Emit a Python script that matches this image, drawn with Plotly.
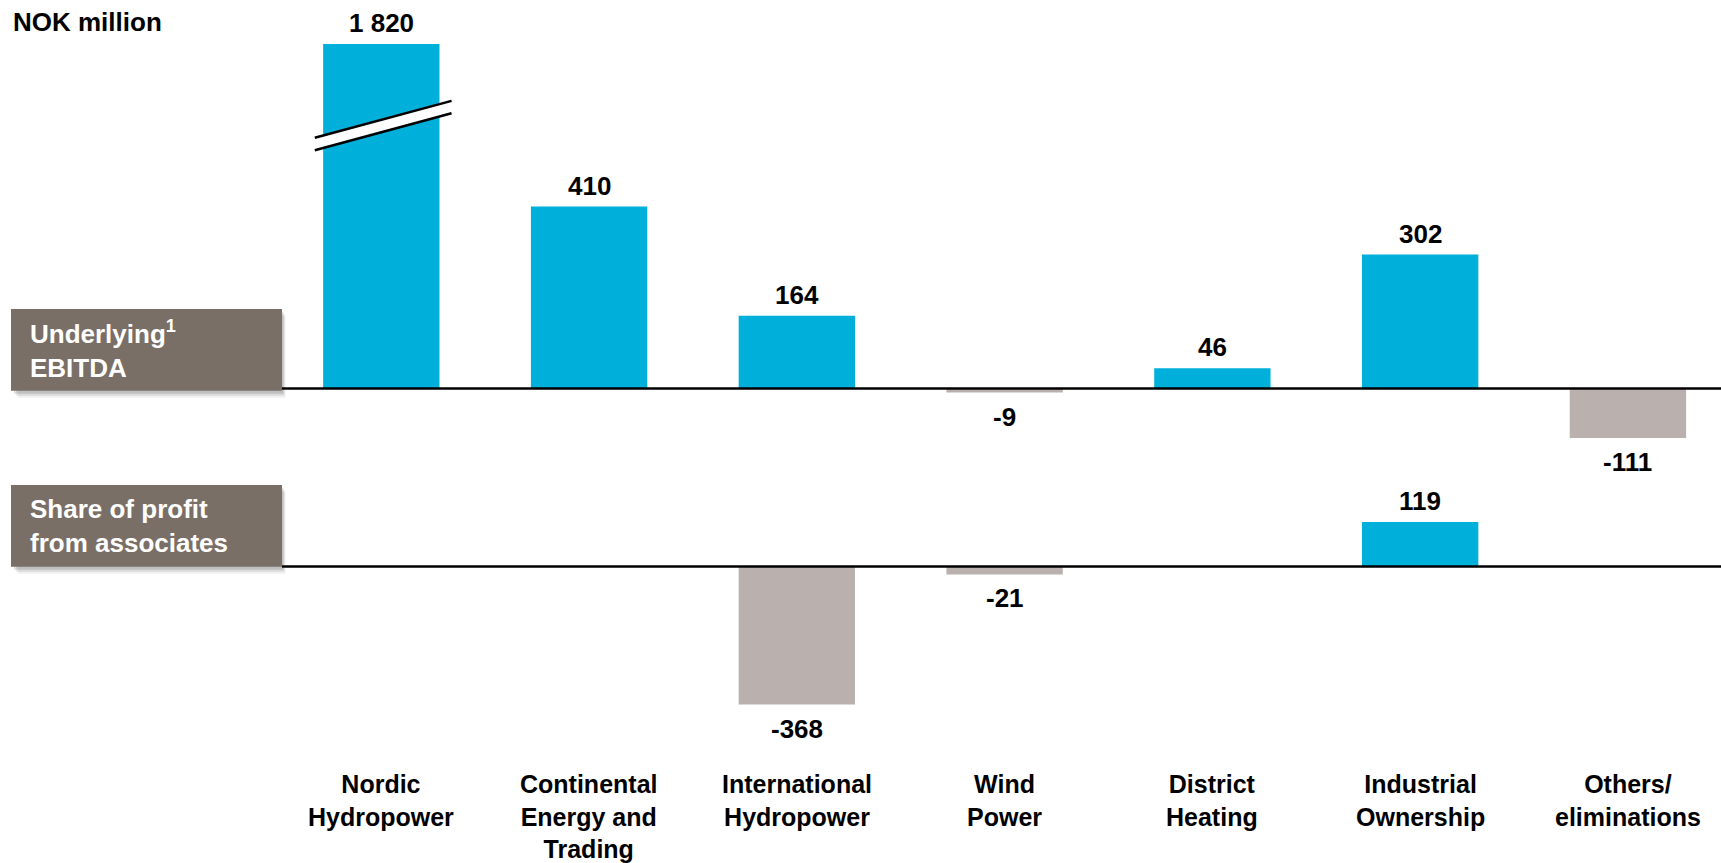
import plotly.graph_objects as go

# ---------------- data ----------------
categories = ["Nordic Hydropower", "Continental Energy and Trading", "International Hydropower",
              "Wind Power", "District Heating", "Industrial Ownership", "Others/eliminations"]
category_labels = ["Nordic<br>Hydropower", "Continental<br>Energy and<br>Trading", "International<br>Hydropower",
                   "Wind<br>Power", "District<br>Heating", "Industrial<br>Ownership", "Others/<br>eliminations"]
ebitda = [1820, 410, 164, -9, 46, 302, -111]
associates = [None, None, -368, -21, None, 119, None]
ebitda_display_cap = 776   # broken-axis cap for very tall bars

# ---------------- styling ----------------
W, H = 1721, 863
BLUE = "#00B0DB"
GREY_BAR = "#BAB1AE"
BOX = "#7A6F67"
FONT = "Liberation Sans, Arial, sans-serif"
FS = 26

def px_x(p):
    return p / W

def px_y(p):
    return 1 - p / H

def fmt(v):
    return f"{v:,}".replace(",", " ")

top_disp = [min(v, ebitda_display_cap) for v in ebitda]
top_colors = [BLUE if v > 0 else GREY_BAR for v in ebitda]
bot_colors = [BLUE if (v is not None and v > 0) else GREY_BAR for v in associates]

fig = go.Figure()
fig.add_trace(go.Bar(x=categories, y=top_disp, marker=dict(color=top_colors, line=dict(width=0)),
                     width=0.56, xaxis="x", yaxis="y", hoverinfo="skip"))
fig.add_trace(go.Bar(x=categories, y=associates, marker=dict(color=bot_colors, line=dict(width=0)),
                     width=0.56, xaxis="x2", yaxis="y2", hoverinfo="skip"))

xrange = [-0.478, 6.448]
xdom = [px_x(282), 1]
annotations = []
shapes = []

# value labels
for c, v, d in zip(categories, ebitda, top_disp):
    annotations.append(dict(x=c, y=d, xref="x", yref="y", text=f"<b>{fmt(v)}</b>", showarrow=False,
                            yshift=21 if v > 0 else -24, yanchor="middle",
                            font=dict(family=FONT, size=FS, color="black")))
for c, v in zip(categories, associates):
    if v is None:
        continue
    annotations.append(dict(x=c, y=v, xref="x2", yref="y2", text=f"<b>{fmt(v)}</b>", showarrow=False,
                            yshift=21 if v > 0 else -24, yanchor="middle",
                            font=dict(family=FONT, size=FS, color="black")))

# category labels
for c, lab in zip(categories, category_labels):
    annotations.append(dict(x=c, y=px_y(768), xref="x2", yref="paper", text=f"<b>{lab}</b>",
                            showarrow=False, yanchor="top", align="center",
                            font=dict(family=FONT, size=25, color="black")))

# unit label
annotations.append(dict(x=px_x(11), y=px_y(22), xref="paper", yref="paper", text="<b>NOK million</b>",
                        showarrow=False, xanchor="left", yanchor="middle",
                        font=dict(family=FONT, size=FS, color="black")))

# left boxes
boxes = [(309, 390.7, "Underlying<sup>1</sup><br>EBITDA"),
         (485, 566.7, "Share of profit<br>from associates")]
for y0, y1, txt in boxes:
    for off, op in [(7, 0.06), (5, 0.09), (3, 0.12)]:
        shapes.append(dict(type="rect", xref="paper", yref="paper",
                           x0=px_x(11 + off), x1=px_x(282 + off * 0.5),
                           y0=px_y(y1 + off), y1=px_y(y0 + off),
                           fillcolor=f"rgba(0,0,0,{op})", line=dict(width=0), layer="below"))
    shapes.append(dict(type="rect", xref="paper", yref="paper", x0=px_x(11), x1=px_x(282),
                       y0=px_y(y1), y1=px_y(y0), fillcolor=BOX, line=dict(width=0), layer="below"))
    annotations.append(dict(x=px_x(28), y=px_y((y0 + y1) / 2), xref="paper", yref="paper",
                            text=f"<b>{txt}</b>", showarrow=False, xanchor="left", yanchor="middle",
                            align="left", font=dict(family=FONT, size=FS, color="white")))

# baselines
for ax in ["y", "y2"]:
    shapes.append(dict(type="line", xref="paper", yref=ax, x0=xdom[0], x1=1, y0=0, y1=0,
                       line=dict(color="black", width=2.5)))

# axis break marks on the capped bar
bi = 0
cap = ebitda_display_cap
xl, xr = bi - 0.32, bi + 0.338
ul, ur = cap - 211, cap - 128
ll, lr = cap - 239, cap - 156
shapes.append(dict(type="path", xref="x", yref="y",
                   path=f"M {xl},{ul} L {xr},{ur} L {xr},{lr} L {xl},{ll} Z",
                   fillcolor="white", line=dict(width=0)))
shapes.append(dict(type="line", xref="x", yref="y", x0=xl, x1=xr, y0=ul, y1=ur,
                   line=dict(color="black", width=2.5)))
shapes.append(dict(type="line", xref="x", yref="y", x0=xl, x1=xr, y0=ll, y1=lr,
                   line=dict(color="black", width=2.5)))

# axis geometry: top panel 0.444 px/unit, bottom 0.375 px/unit
top_base, top_scale, top_d0, top_d1 = 388.6, 0.444, 0, 470
bot_base, bot_scale, bot_d0, bot_d1 = 566.5, 0.375, 475, 760
yr1 = [-(top_d1 - top_base) / top_scale, (top_base - top_d0) / top_scale]
yr2 = [-(bot_d1 - bot_base) / bot_scale, (bot_base - bot_d0) / bot_scale]

hidden = dict(showgrid=False, zeroline=False, showticklabels=False, ticks="", showline=False, fixedrange=True)
fig.update_layout(
    width=W, height=H,
    margin=dict(l=0, r=0, t=0, b=0),
    paper_bgcolor="white", plot_bgcolor="white",
    showlegend=False,
    xaxis=dict(domain=xdom, range=xrange, anchor="y", **hidden),
    xaxis2=dict(domain=xdom, range=xrange, anchor="y2", **hidden),
    yaxis=dict(domain=[px_y(top_d1), px_y(top_d0)], range=yr1, anchor="x", **hidden),
    yaxis2=dict(domain=[px_y(bot_d1), px_y(bot_d0)], range=yr2, anchor="x2", **hidden),
    annotations=annotations,
    shapes=shapes,
    font=dict(family=FONT),
)

fig.write_html("out.html")
